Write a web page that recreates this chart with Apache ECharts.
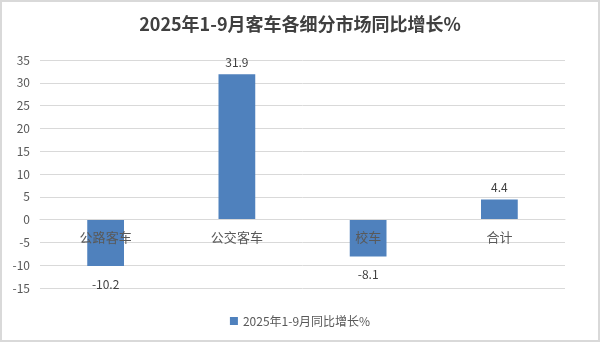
<!DOCTYPE html>
<html><head><meta charset="utf-8">
<script src="https://cdn.jsdelivr.net/npm/echarts@6/dist/echarts.min.js"></script>
<style>
html,body{margin:0;padding:0;background:#fff;}
#c{width:600px;height:342px;box-sizing:border-box;border:2px solid #d9d9d9;}
</style></head><body>
<div id="c"></div>
<script>
const categories = ['公路客车','公交客车','校车','合计'];
const values = [-10.2, 31.9, -8.1, 4.4];
const yMin = -15, yMax = 35, yStep = 5;
const seriesName = '2025年1-9月同比增长%';
const titleText = '2025年1-9月客车各细分市场同比增长%';

const chart = echarts.init(document.getElementById('c'));
const font = '"Noto Sans CJK SC", "Noto Sans", sans-serif';
chart.setOption({
  animation:false,
  title:{text:titleText,left:'center',top:8,textStyle:{fontFamily:font,fontSize:18,fontWeight:'bold',color:'#404040'}},
  grid:{left:38,right:33,top:58,bottom:52},
  legend:{bottom:8,left:'center',itemWidth:8,itemHeight:8,icon:'rect',textStyle:{fontFamily:font,fontSize:12,color:'#595959'},data:[seriesName]},
  xAxis:{type:'category',data:categories,axisTick:{show:false},
    axisLine:{show:true,onZero:true,lineStyle:{color:'#d9d9d9'}},
    axisLabel:{fontFamily:font,fontSize:13,color:'#595959',margin:11},z:5},
  yAxis:{type:'value',min:yMin,max:yMax,interval:yStep,
    axisLabel:{fontFamily:font,fontSize:12,color:'#595959',margin:10},
    splitLine:{lineStyle:{color:'#d9d9d9'}},axisLine:{show:false},axisTick:{show:false}},
  series:[{name:seriesName,type:'bar',barWidth:'28%',itemStyle:{color:'#4f81bd'},z:2,
    data:values.map(v=>({value:v,label:{position:v>=0?'top':'bottom',distance:v>=0?6:12}})),
    label:{show:true,fontFamily:font,fontSize:12,color:'#404040'}}]
});
// place the category axis on the zero line using the library's own scale
const zeroY = chart.convertToPixel({yAxisIndex:0}, 0);
const bottomY = chart.convertToPixel({yAxisIndex:0}, yMin);
if (Math.abs(bottomY - zeroY) > 1) {
  chart.setOption({xAxis:{axisLine:{onZero:false},offset:-(bottomY - zeroY)}});
}
</script>
</body></html>
